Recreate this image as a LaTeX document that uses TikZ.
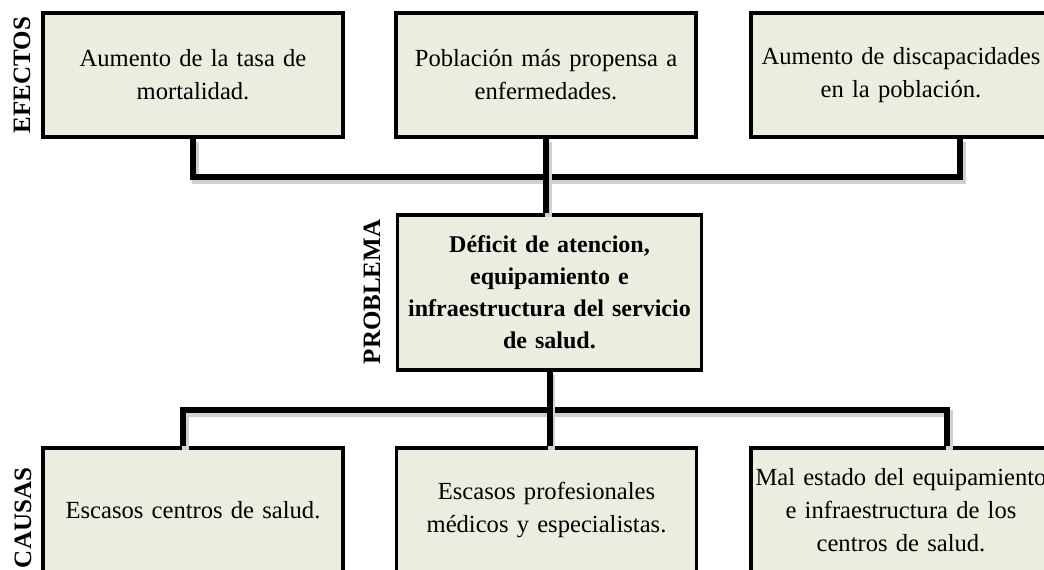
\documentclass[tikz,border=0pt]{standalone}
\usepackage{fontspec}
\setmainfont{Liberation Serif}
\usetikzlibrary{positioning,calc}
\definecolor{FondoCaja}{RGB}{235,237,222}
\definecolor{SombraLinea}{RGB}{150,150,150}
\tikzset{
  cajabox/.style={draw=black, line width=1.6pt, fill=FondoCaja, align=center,
    text width=#1, minimum height=62pt, inner xsep=0pt, font=\fontsize{12.3}{16.5}\selectfont},
  cajabox/.default=150pt,
  problemabox/.style={cajabox=152pt, minimum height=77.5pt,
    font=\fontsize{12}{16}\selectfont\bfseries},
  etiqueta/.style={rotate=90, font=\fontsize{12.5}{14}\selectfont\bfseries},
  conector/.style={line width=3pt, black, line join=miter,
    preaction={draw=SombraLinea!45, line width=3.5pt, transform canvas={shift={(1.2pt,-1.8pt)}}}},
}

\begin{document}
\begin{tikzpicture}[x=0.5pt, y=-0.5pt]
  \useasboundingbox (0,0) rectangle (1044,569);

  % efectos
  \node[cajabox] (e1) at (193,75) {Aumento de la tasa de\\ mortalidad.};
  \node[cajabox] (e2) at (546,75) {Población más propensa a\\ enfermedades.};
  \node[cajabox] (e3) at (901,75) {\mbox{Aumento de discapacidades}\\ en la población.};
  \node[etiqueta] (lefec) at (22,75) {EFECTOS};

  % problema
  \node[problemabox] (prob) at (549.5,292.5) {Déficit de atencion,\\ equipamiento e\\ infraestructura del servicio\\ de salud.};
  \node[etiqueta] (lprob) at (372,292) {PROBLEMA};

  % causas
  \node[cajabox] (c1) at (193,510) {Escasos centros de salud.};
  \node[cajabox] (c2) at (546.5,510) {Escasos profesionales\\ médicos y especialistas.};
  \node[cajabox] (c3) at (901,510) {\mbox{Mal estado del equipamiento}\\ e infraestructura de los\\ centros de salud.};
  \node[etiqueta] (lcaus) at (23,518) {CAUSAS};

  \draw[conector] (e1.south) -- ++(0,38) -| ($(e3.south)+(59,0)$);
  \draw[conector] (e2.south) -- (e2.south |- prob.north);
  \coordinate (barra) at ($(prob.south)+(0,38)$);
  \draw[conector] ($(c1.north)+(-10,0)$) |- (barra) -| ($(c3.north)+(46,0)$);
  \draw[conector] (prob.south) -- (prob.south |- c2.north);
\end{tikzpicture}
\end{document}
